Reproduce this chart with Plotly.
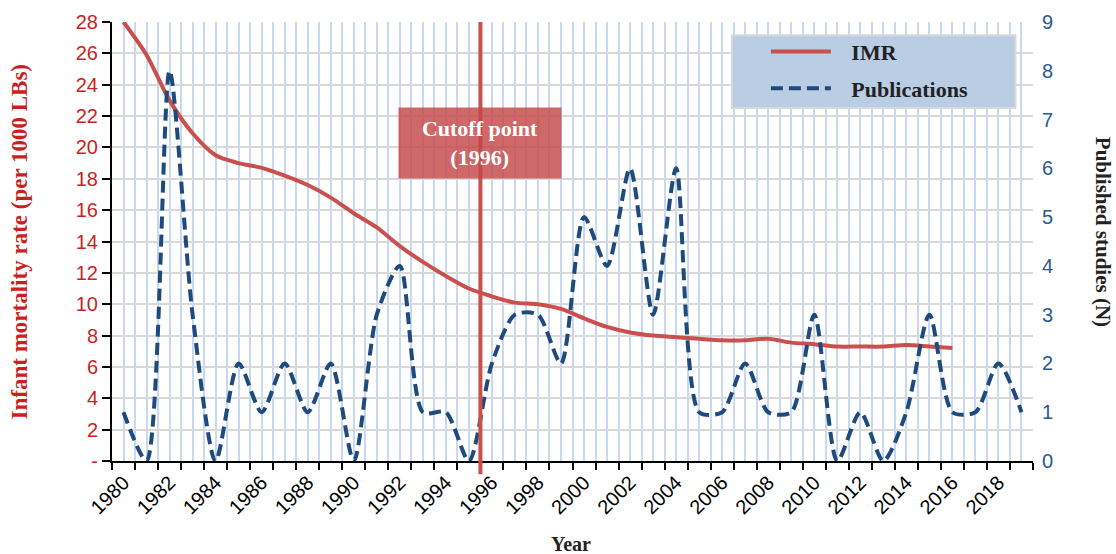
import plotly.graph_objects as go

years = list(range(1980, 2020))
imr_years = list(range(1980, 2017))
imr_values = [28.0, 25.9, 23.0, 20.9, 19.5, 19.0, 18.7, 18.2, 17.6, 16.8, 15.8, 14.9,
              13.7, 12.7, 11.8, 11.0, 10.5, 10.1, 10.0, 9.7, 9.1, 8.55, 8.2, 8.0,
              7.9, 7.8, 7.7, 7.7, 7.8, 7.55, 7.45, 7.3, 7.3, 7.3, 7.4, 7.3, 7.2]
pub_values = [1, 0, 8, 3, 0, 2, 1, 2, 1, 2, 0, 3, 4, 1, 1, 0, 2, 3, 3, 2,
              5, 4, 6, 3, 6, 1, 1, 2, 1, 1, 3, 0, 1, 0, 1, 3, 1, 1, 2, 1]
x_labels = [str(y) if y % 2 == 0 else "" for y in years]
left_ticks = list(range(0, 29, 2))
left_labels = ["-"] + [str(v) for v in left_ticks[1:]]
right_ticks = list(range(0, 10))
cutoff_x = 1995.5

RED = "#c9504c"
BLUE = "#1f4a7c"
GRIDBLUE = "#c6d9f0"
SERIF = "Liberation Serif"
SANS = "Liberation Sans"
GAP = "\u2002\u2009"

fig = go.Figure()
fig.add_trace(go.Scatter(x=imr_years, y=imr_values, name=GAP + "IMR", mode="lines",
                         line=dict(color=RED, width=4, shape="spline", smoothing=0.8),
                         legendgroup="a"))
fig.add_trace(go.Scatter(x=years, y=pub_values, name=GAP + "Publications", mode="lines",
                         yaxis="y2", legendgroup="b",
                         line=dict(color=BLUE, width=4, dash="12px,6px", shape="spline", smoothing=0.75)))

fig.add_shape(type="line", xref="x", yref="paper", x0=cutoff_x, x1=cutoff_x, y0=-0.03, y1=1,
              line=dict(color=RED, width=4))

# legend background panel
fig.add_shape(type="rect", xref="paper", yref="paper", x0=0.673, x1=0.981, y0=0.804, y1=0.970,
              fillcolor="#b9cde5", line=dict(color="#d9d9d9", width=2), layer="above")

fig.add_annotation(x=cutoff_x, y=20.3, xref="x", yref="y", text="Cutoff point<br>(1996)",
                   showarrow=False, width=160, height=68, bgcolor="rgba(196,72,72,0.82)",
                   font=dict(family=SERIF, size=22, color="white", weight="bold"), borderpad=1)

fig.add_annotation(x=-0.1, y=0.5, xref="paper", yref="paper", textangle=-90,
                   xanchor="center", yanchor="middle",
                   text="Infant mortality rate (per 1000 LBs)", showarrow=False,
                   font=dict(family=SERIF, size=23, color="#cc1f1f", weight="bold"))
fig.add_annotation(x=1.076, y=0.522, xref="paper", yref="paper", textangle=90,
                   xanchor="center", yanchor="middle",
                   text="Published studies (N)", showarrow=False,
                   font=dict(family=SERIF, size=21, color="#222222", weight="bold"))
fig.add_annotation(x=0.498, y=-0.189, xref="paper", yref="paper", text="Year",
                   xanchor="center", yanchor="middle",
                   showarrow=False, font=dict(family=SERIF, size=20, color="#222222", weight="bold"))

fig.update_layout(
    width=1116, height=554,
    margin=dict(l=112, r=83, t=22, b=93, autoexpand=False),
    plot_bgcolor="white", paper_bgcolor="white",
    showlegend=True,
    legend=dict(x=0.71, y=0.98, xanchor="left", yanchor="top", bgcolor="rgba(0,0,0,0)",
                borderwidth=0, tracegroupgap=5, itemwidth=60,
                font=dict(family=SERIF, size=22, color="#222222", weight="bold")),
    xaxis=dict(range=[1979.5, 2019.5], tickmode="array", tickvals=years, ticktext=x_labels,
               tickangle=-45, ticks="", showgrid=True, gridcolor=GRIDBLUE, gridwidth=1.5,
               showline=True, linecolor="black", linewidth=2, zeroline=False, automargin=False,
               tickfont=dict(family=SANS, size=20, color="black"),
               minor=dict(tickmode="array", tickvals=[y - 0.5 for y in years] + [2019.5],
                          ticks="outside", ticklen=7, tickwidth=2, tickcolor="black",
                          showgrid=True, gridcolor=GRIDBLUE, gridwidth=1.5)),
    yaxis=dict(range=[0, 28], tickmode="array", tickvals=left_ticks, ticktext=left_labels,
               showgrid=True, gridcolor="#d9d9d9", gridwidth=2, zeroline=False,
               showline=True, linecolor="black", linewidth=2, automargin=False,
               ticks="outside", ticklen=8, tickwidth=2, tickcolor="black",
               tickfont=dict(family=SANS, size=20, color="#cc1f1f")),
    yaxis2=dict(range=[0, 9], overlaying="y", side="right", tickmode="array",
                tickvals=right_ticks, showgrid=False, zeroline=False, showline=False,
                ticks="", automargin=False, ticklabelstandoff=8,
                tickfont=dict(family=SANS, size=20, color="#2a5a8f")),
)

fig.write_html("out.html", config={"displayModeBar": False},
               post_script="document.body.style.margin='0';document.body.style.padding='0';"
                           "document.body.style.overflow='hidden';")
